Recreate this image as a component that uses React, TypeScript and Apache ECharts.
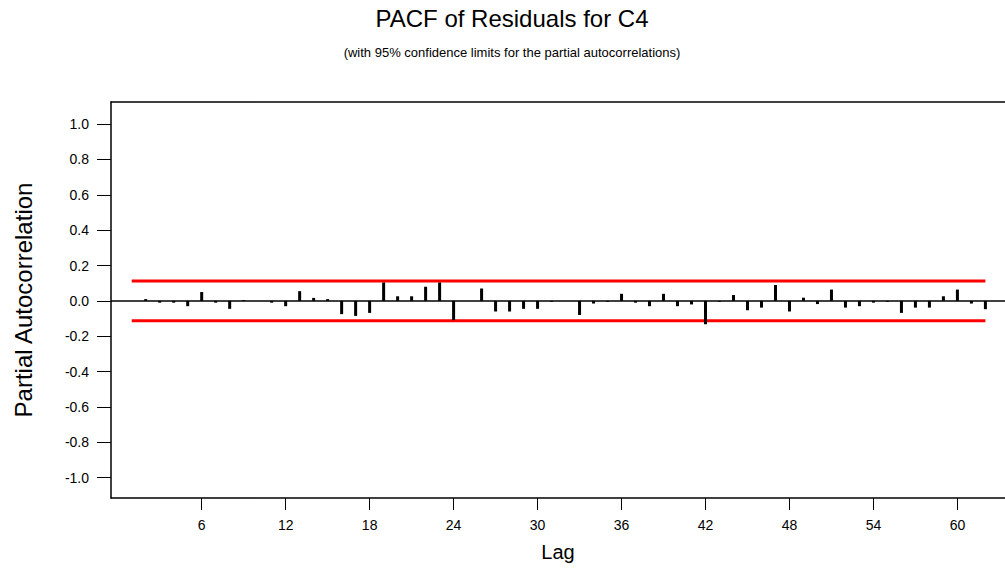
import React, { useEffect, useRef } from "react";
import * as echarts from "echarts";

const lags: number[] = [
  1, 2, 3, 4, 5, 6, 7, 8, 9, 10, 11, 12, 13, 14, 15, 16, 17, 18, 19, 20, 21,
  22, 23, 24, 25, 26, 27, 28, 29, 30, 31, 32, 33, 34, 35, 36, 37, 38, 39, 40,
  41, 42, 43, 44, 45, 46, 47, 48, 49, 50, 51, 52, 53, 54, 55, 56, 57, 58, 59,
  60, 61, 62,
];
const pacf: number[] = [
  0.0, 0.01, -0.01, -0.01, -0.03, 0.05, -0.01, -0.045, 0.005, 0.0, -0.01,
  -0.03, 0.055, 0.017, 0.01, -0.075, -0.085, -0.068, 0.104, 0.026, 0.026,
  0.08, 0.104, -0.109, 0.0, 0.07, -0.06, -0.06, -0.045, -0.045, -0.005, 0.0,
  -0.08, -0.015, -0.005, 0.04, -0.01, -0.03, 0.04, -0.03, -0.02, -0.132,
  -0.005, 0.033, -0.053, -0.038, 0.09, -0.06, 0.018, -0.018, 0.064, -0.038,
  -0.03, -0.01, -0.005, -0.068, -0.038, -0.038, 0.026, 0.064, -0.015, -0.047,
];
const confLimit = 0.113;
const xTicks: number[] = [6, 12, 18, 24, 30, 36, 42, 48, 54, 60];
const yTicks: number[] = [-1.0, -0.8, -0.6, -0.4, -0.2, 0.0, 0.2, 0.4, 0.6, 0.8, 1.0];

const FONT = "'Liberation Sans', Arial, sans-serif";

export default function App() {
  const ref = useRef<HTMLDivElement>(null);
  useEffect(() => {
    if (!ref.current) return;
    const chart = echarts.init(ref.current, null, { renderer: "svg" });
    const xMin = -0.48;
    const xMax = 63.4;
    const first = lags[0];
    const last = lags[lags.length - 1];
    chart.setOption({
      animation: false,
      backgroundColor: "#fff",
      textStyle: { fontFamily: FONT, color: "#000" },
      title: [
        {
          text: "PACF of Residuals for C4",
          left: 507,
          top: 1,
          textAlign: "center",
          textStyle: { fontSize: 24, fontWeight: "normal", color: "#000", fontFamily: FONT },
        },
        {
          text: "(with 95% confidence limits for the partial autocorrelations)",
          left: 507,
          top: 41,
          textAlign: "center",
          textStyle: { fontSize: 13, fontWeight: "normal", color: "#000", fontFamily: FONT },
        },
      ],
      grid: { left: 111, top: 102, right: 0, bottom: 75, containLabel: false },
      xAxis: [
        {
          type: "value",
          position: "bottom",
          min: xMin,
          max: xMax,
          axisLine: { show: true, onZero: false, lineStyle: { color: "#000", width: 1.5 } },
          axisTick: { show: true, customValues: xTicks, length: 12, lineStyle: { color: "#000", width: 1 } },
          axisLabel: {
            show: true,
            customValues: xTicks,
            fontSize: 14,
            color: "#000",
            margin: 20,
            fontFamily: FONT,
          },
          splitLine: { show: false },
          name: "Lag",
          nameLocation: "middle",
          nameGap: 44,
          nameTextStyle: { fontSize: 20, color: "#000", fontFamily: FONT },
        },
        {
          type: "value",
          position: "top",
          min: xMin,
          max: xMax,
          axisLine: { show: true, onZero: false, lineStyle: { color: "#000", width: 1.5 } },
          axisTick: { show: false },
          axisLabel: { show: false },
          splitLine: { show: false },
        },
      ],
      yAxis: {
        type: "value",
        min: -1.115,
        max: 1.125,
        axisLine: { show: true, onZero: false, lineStyle: { color: "#000", width: 1.5 } },
        axisTick: { show: true, customValues: yTicks, length: 14, lineStyle: { color: "#000", width: 1 } },
        axisLabel: {
          show: true,
          customValues: yTicks,
          fontSize: 14,
          color: "#000",
          margin: 22,
          fontFamily: FONT,
          formatter: (v: number) => v.toFixed(1),
        },
        splitLine: { show: false },
        name: "Partial Autocorrelation",
        nameLocation: "middle",
        nameGap: 76,
        nameTextStyle: { fontSize: 24, color: "#000", fontFamily: FONT },
      },
      series: [
        {
          type: "line",
          data: [
            [first, confLimit],
            [last, confLimit],
          ],
          symbol: "none",
          lineStyle: { color: "#ff0000", width: 3 },
          silent: true,
          z: 1,
        },
        {
          type: "line",
          data: [
            [first, -confLimit],
            [last, -confLimit],
          ],
          symbol: "none",
          lineStyle: { color: "#ff0000", width: 3 },
          silent: true,
          z: 1,
        },
        {
          type: "bar",
          data: lags.map((l, i) => [l, pacf[i]]),
          barWidth: 3,
          itemStyle: { color: "#000" },
          silent: true,
          z: 3,
          markLine: {
            silent: true,
            symbol: ["none", "none"],
            label: { show: false },
            lineStyle: { color: "#000", width: 1.5, type: "solid" },
            data: [{ yAxis: 0 }],
          },
        },
      ],
    });
    return () => chart.dispose();
  }, []);
  return (
    <div
      ref={ref}
      style={{ position: "fixed", left: 0, top: 0, width: 1005, height: 573 }}
    />
  );
}
